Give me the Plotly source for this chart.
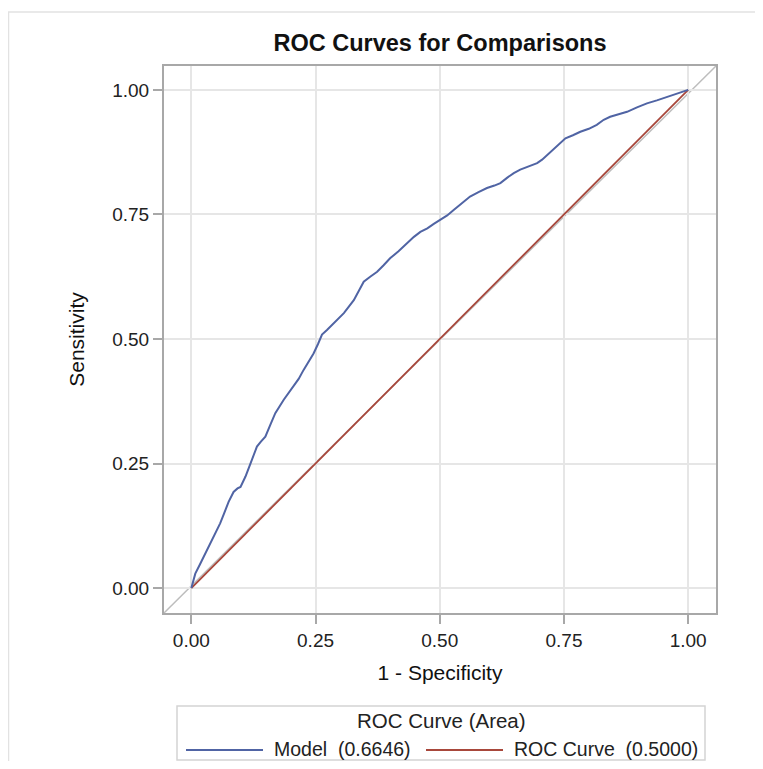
import plotly.graph_objects as go

# ---- data ----
model_fpr = [0, 0.008, 0.017, 0.025, 0.035, 0.045, 0.058, 0.066, 0.075, 0.085, 0.093, 0.099,
             0.109, 0.119, 0.132, 0.140, 0.149, 0.160, 0.169, 0.186, 0.196, 0.206, 0.216, 0.226,
             0.236, 0.246, 0.255, 0.263, 0.273, 0.283, 0.295, 0.307, 0.327, 0.337, 0.347, 0.360,
             0.374, 0.387, 0.400, 0.417, 0.434, 0.448, 0.461, 0.475, 0.488, 0.501, 0.515, 0.528,
             0.545, 0.561, 0.578, 0.595, 0.610, 0.622, 0.636, 0.649, 0.662, 0.675, 0.696, 0.706,
             0.716, 0.726, 0.736, 0.745, 0.753, 0.768, 0.783, 0.800, 0.816, 0.830, 0.843, 0.860,
             0.877, 0.897, 0.917, 0.937, 0.957, 0.978, 1.0]
model_tpr = [0, 0.029, 0.047, 0.063, 0.083, 0.103, 0.130, 0.150, 0.173, 0.193, 0.200, 0.203,
             0.224, 0.250, 0.284, 0.294, 0.304, 0.330, 0.351, 0.378, 0.392, 0.404, 0.420, 0.438,
             0.455, 0.471, 0.490, 0.509, 0.518, 0.528, 0.540, 0.552, 0.578, 0.598, 0.615, 0.625,
             0.635, 0.648, 0.662, 0.676, 0.692, 0.705, 0.715, 0.722, 0.731, 0.739, 0.748, 0.759,
             0.772, 0.786, 0.795, 0.803, 0.808, 0.813, 0.824, 0.833, 0.840, 0.845, 0.853, 0.860,
             0.869, 0.878, 0.886, 0.896, 0.903, 0.909, 0.916, 0.922, 0.930, 0.940, 0.946, 0.951,
             0.956, 0.965, 0.973, 0.979, 0.986, 0.993, 1.0]
chance_fpr = [0, 1]
chance_tpr = [0, 1]

series_names = ["Model", "ROC Curve"]
series_areas = ["0.6646", "0.5000"]
tick_vals = [0, 0.25, 0.5, 0.75, 1.0]
tick_text = ["0.00", "0.25", "0.50", "0.75", "1.00"]

title_text = "ROC Curves for Comparisons"
x_title = "1 - Specificity"
y_title = "Sensitivity"
legend_title = "ROC Curve (Area)"

BLUE = "#5064a4"
RED = "#a8473b"
FONT = "Liberation Sans, Arial, sans-serif"

fig = go.Figure()
fig.add_trace(go.Scatter(x=chance_fpr, y=chance_tpr, mode="lines",
                         line=dict(color=RED, width=1.8), showlegend=False,
                         name=series_names[1]))
fig.add_trace(go.Scatter(x=model_fpr, y=model_tpr, mode="lines",
                         line=dict(color=BLUE, width=2), showlegend=False,
                         name=series_names[0]))

axis_common = dict(
    tickvals=tick_vals, ticktext=tick_text,
    showgrid=True, gridcolor="#e6e6e6", gridwidth=1.5,
    zeroline=False,
    showline=True, linecolor="#a8a8a8", linewidth=2, mirror=True,
    ticks="outside", ticklen=9, tickcolor="#a8a8a8", tickwidth=1.5,
    tickfont=dict(family=FONT, size=19, color="#222"),
)
fig.update_xaxes(range=[-0.055, 1.056], title=dict(text=x_title, standoff=16,
                 font=dict(family=FONT, size=21, color="#111")), **axis_common)
fig.update_yaxes(range=[-0.05, 1.048], title=dict(text=y_title, standoff=22,
                 font=dict(family=FONT, size=21, color="#111")), **axis_common)

# the page body has an 8px margin, so the figure starts at page (8, 8)
OFF = 8
FW, FH = 763 - 2 * OFF, 769 - 2 * OFF
# plot-area geometry in page pixels
L, R, T, B = 164, 716, 66, 613
W, H = R - L, B - T
def px(x): return (x - L) / W
def py(y): return (B - y) / H

shapes = [
    # outer light frame
    dict(type="rect", xref="paper", yref="paper", x0=px(8.5), x1=px(790), y0=py(800), y1=py(12),
         line=dict(color="#e2e2e2", width=1.5), fillcolor="rgba(0,0,0,0)", layer="below"),
    # grey diagonal reference across the whole plot area
    dict(type="line", xref="x domain", yref="y domain", x0=0, y0=0, x1=1, y1=1,
         line=dict(color="#bdbdbd", width=1.5), layer="below"),
    # legend box
    dict(type="rect", xref="paper", yref="paper", x0=px(177), x1=px(705), y0=py(760), y1=py(706),
         line=dict(color="#d4d4d4", width=1.5), fillcolor="rgba(0,0,0,0)"),
    # legend samples
    dict(type="line", xref="paper", yref="paper", x0=px(186), x1=px(263), y0=py(750), y1=py(750),
         line=dict(color=BLUE, width=1.8)),
    dict(type="line", xref="paper", yref="paper", x0=px(426), x1=px(503), y0=py(750), y1=py(750),
         line=dict(color=RED, width=1.8)),
]

annotations = [
    dict(text=legend_title, xref="paper", yref="paper", x=px(441), y=py(720),
         xanchor="center", yanchor="middle", showarrow=False,
         font=dict(family=FONT, size=20.5, color="#222")),
    dict(text=f"{series_names[0]}  ({series_areas[0]})", xref="paper", yref="paper",
         x=px(272), y=py(749), xanchor="left", yanchor="middle", showarrow=False,
         font=dict(family=FONT, size=19.5, color="#222")),
    dict(text=f"{series_names[1]}  ({series_areas[1]})", xref="paper", yref="paper",
         x=px(512), y=py(749), xanchor="left", yanchor="middle", showarrow=False,
         font=dict(family=FONT, size=19.5, color="#222")),
]

fig.update_layout(
    width=FW, height=FH,
    margin=dict(l=L - OFF, r=FW - (R - OFF), t=T - OFF, b=FH - (B - OFF)),
    paper_bgcolor="white", plot_bgcolor="white",
    title=dict(text=f"<b>{title_text}</b>", x=px(440), xref="paper", xanchor="center",
               y=1 - (43 - OFF) / FH, yref="container", yanchor="middle",
               font=dict(family=FONT, size=23.5, color="#111")),
    showlegend=False,
    shapes=shapes,
    annotations=annotations,
)

fig.write_html("out.html")
